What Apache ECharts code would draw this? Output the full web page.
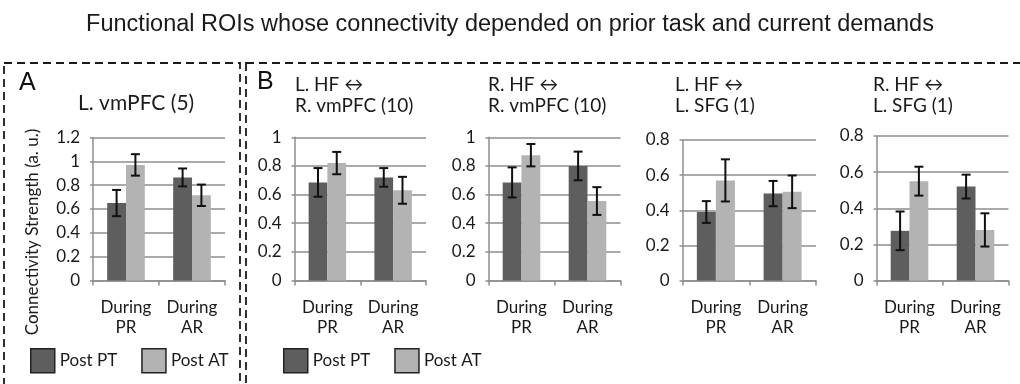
<!DOCTYPE html>
<html>
<head>
<meta charset="utf-8">
<script src="https://cdn.jsdelivr.net/npm/echarts@6/dist/echarts.min.js"></script>
<style>
  html, body { margin: 0; padding: 0; background: #fff; }
  #main { width: 1020px; height: 384px; }
</style>
</head>
<body>
<div id="main"></div>
<script>
// data
const categories = ["During\nPR", "During\nAR"];
const panelTitles = [
  "L. vmPFC (5)",
  "L. HF \u2194\nR. vmPFC (10)",
  "R. HF \u2194\nR. vmPFC (10)",
  "L. HF \u2194\nL. SFG (1)",
  "R. HF \u2194\nL. SFG (1)",
];
const postPT = [[0.65, 0.865], [0.685, 0.72], [0.685, 0.8], [0.39, 0.495], [0.275, 0.52]];
const postAT = [[0.97, 0.715], [0.82, 0.63], [0.875, 0.555], [0.57, 0.505], [0.55, 0.28]];
const errPT = [[0.11, 0.075], [0.1, 0.065], [0.105, 0.1], [0.062, 0.072], [0.107, 0.066]];
const errAT = [[0.09, 0.09], [0.078, 0.094], [0.078, 0.097], [0.12, 0.093], [0.08, 0.092]];
const yMax = [1.2, 1, 1, 0.8, 0.8];
const yStep = 0.2;

// layout of the five small plots
const grids = [
  { left: 93, top: 137.5, width: 132, height: 143 },
  { left: 294.5, top: 137.3, width: 131.5, height: 143.2 },
  { left: 488.5, top: 137.3, width: 132, height: 143.2 },
  { left: 682.5, top: 140, width: 133.5, height: 140.5 },
  { left: 876.5, top: 136, width: 132, height: 144.5 },
];
const titlePos = [
  { left: 73, top: 88, size: 21 },
  { left: 290, top: 69, size: 19 },
  { left: 483, top: 69, size: 19 },
  { left: 670, top: 69, size: 19 },
  { left: 868, top: 69, size: 19 },
];

const FONT = "Lato";
const DARK = "#5e5e5e";
const LIGHT = "#b3b3b3";
const GRIDC = "#8e8e8e";
const GAP = 0.43;

function errRenderer(side) {
  return function (params, api) {
    const c = api.value(0);
    const lo = api.coord([c, api.value(1)]);
    const hi = api.coord([c, api.value(2)]);
    const band = api.size([1, 0])[0];
    const bw = band * (1 - GAP) / 2;
    const x = lo[0] + side * bw / 2;
    const cap = 4.5;
    const st = { stroke: "#111", lineWidth: 2 };
    return {
      type: "group",
      children: [
        { type: "line", shape: { x1: x, y1: lo[1], x2: x, y2: hi[1] }, style: st },
        { type: "line", shape: { x1: x - cap, y1: lo[1], x2: x + cap, y2: lo[1] }, style: st },
        { type: "line", shape: { x1: x - cap, y1: hi[1], x2: x + cap, y2: hi[1] }, style: st },
      ],
    };
  };
}

const chart = echarts.init(document.getElementById("main"));

const titles = [{
  text: "Functional ROIs whose connectivity depended on prior task and current demands",
  left: "center",
  top: 8,
  textStyle: { fontFamily: "Liberation Sans", fontSize: 23.5, fontWeight: "normal", color: "#1a1a1a" },
}];
panelTitles.forEach((t, i) => {
  titles.push({
    text: t,
    left: titlePos[i].left,
    top: titlePos[i].top,
    textStyle: { fontFamily: FONT, fontSize: titlePos[i].size, fontWeight: "normal", color: "#1a1a1a", lineHeight: 21 },
  });
});

const xAxes = [], yAxes = [], series = [];
grids.forEach((g, i) => {
  xAxes.push({
    type: "category",
    gridIndex: i,
    data: categories,
    axisLine: { lineStyle: { color: GRIDC, width: 1.5 } },
    axisTick: { show: true, length: 5, lineStyle: { color: GRIDC, width: 1.5 } },
    axisLabel: { interval: 0, fontFamily: FONT, fontSize: 17, color: "#1a1a1a", lineHeight: 20, margin: 17 },
  });
  yAxes.push({
    type: "value",
    gridIndex: i,
    min: 0,
    max: yMax[i],
    interval: yStep,
    axisLine: { show: true, lineStyle: { color: GRIDC, width: 1.5 } },
    axisTick: { show: true, length: 3, lineStyle: { color: GRIDC, width: 1.5 } },
    splitLine: { lineStyle: { color: GRIDC, width: 1.5 } },
    axisLabel: { fontFamily: FONT, fontSize: 17, color: "#1a1a1a", margin: 13 },
  });
  series.push({
    name: "Post PT",
    type: "bar",
    xAxisIndex: i,
    yAxisIndex: i,
    data: postPT[i],
    barGap: 0,
    barCategoryGap: GAP * 100 + "%",
    itemStyle: { color: DARK },
  });
  series.push({
    name: "Post AT",
    type: "bar",
    xAxisIndex: i,
    yAxisIndex: i,
    data: postAT[i],
    barGap: 0,
    barCategoryGap: GAP * 100 + "%",
    itemStyle: { color: LIGHT },
  });
  series.push({
    type: "custom",
    xAxisIndex: i,
    yAxisIndex: i,
    renderItem: errRenderer(-1),
    data: postPT[i].map((v, k) => [k, v - errPT[i][k], v + errPT[i][k]]),
    z: 5,
  });
  series.push({
    type: "custom",
    xAxisIndex: i,
    yAxisIndex: i,
    renderItem: errRenderer(1),
    data: postAT[i].map((v, k) => [k, v - errAT[i][k], v + errAT[i][k]]),
    z: 5,
  });
});

const legendBase = {
  data: ["Post PT", "Post AT"],
  top: 343,
  icon: "rect",
  itemWidth: 24,
  itemHeight: 24,
  itemGap: 24,
  itemStyle: { borderColor: "#222", borderWidth: 1.5 },
  textStyle: { fontFamily: FONT, fontSize: 17, color: "#1a1a1a" },
  selectedMode: false,
};

const option = {
  backgroundColor: "#fff",
  animation: false,
  title: titles,
  legend: [
    Object.assign({}, legendBase, { left: 25 }),
    Object.assign({}, legendBase, { left: 278 }),
  ],
  grid: grids.map((g) => Object.assign({ containLabel: false }, g)),
  xAxis: xAxes,
  yAxis: yAxes,
  series: series,
  graphic: [
    {
      type: "rect",
      shape: { x: 4, y: 63, width: 236, height: 400 },
      style: { fill: null, stroke: "#1a1a1a", lineWidth: 1.8, lineDash: [8, 5] },
    },
    {
      type: "rect",
      shape: { x: 246, y: 63, width: 800, height: 400 },
      style: { fill: null, stroke: "#1a1a1a", lineWidth: 1.8, lineDash: [8, 5] },
    },
    {
      type: "text",
      left: 19,
      top: 71,
      style: { text: "A", font: "25px 'Liberation Sans'", fill: "#111" },
    },
    {
      type: "text",
      left: 257,
      top: 70,
      style: { text: "B", font: "25px 'Liberation Sans'", fill: "#111" },
    },
    {
      type: "text",
      x: 33,
      y: 232,
      rotation: Math.PI / 2,
      style: {
        text: "Connectivity Strength (a. u.)",
        font: "17px Lato",
        fill: "#1a1a1a",
        align: "center",
        verticalAlign: "middle",
      },
    },
  ],
};

chart.setOption(option);
window.onresize = function () {
  chart.resize();
};
</script>
</body>
</html>
